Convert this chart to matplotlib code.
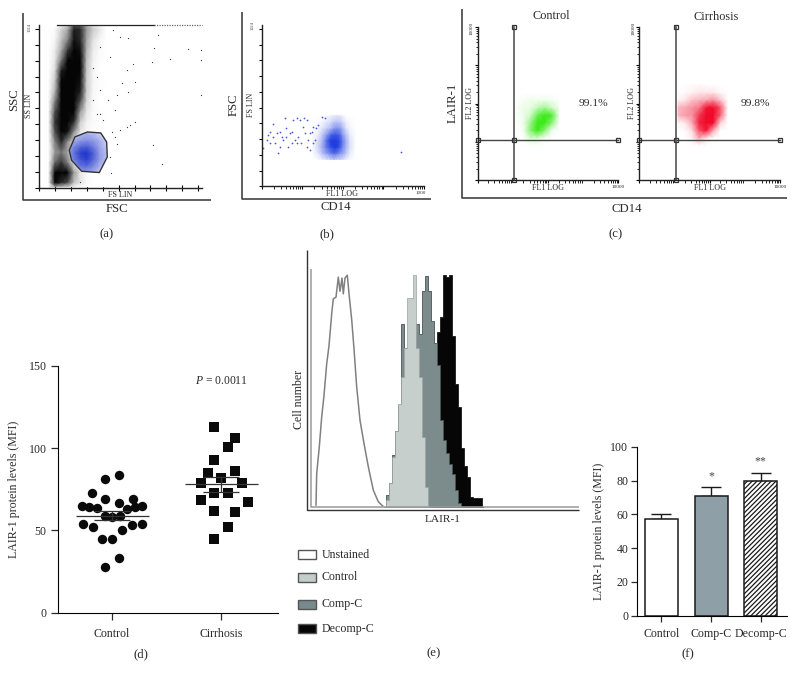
import numpy as np
import matplotlib
matplotlib.use("Agg")
import matplotlib.pyplot as plt
from matplotlib.colors import LinearSegmentedColormap
from matplotlib.patches import Polygon, Rectangle

plt.rcParams['font.family'] = ['Liberation Serif', 'DejaVu Serif']
plt.rcParams['mathtext.fontset'] = 'custom'
plt.rcParams['mathtext.rm'] = 'Liberation Serif'
plt.rcParams['mathtext.it'] = 'Liberation Serif:italic'
plt.rcParams['hatch.linewidth'] = 0.9

W, H = 796, 680
TXT = '#2b2b2b'

# (a) side scatter vs forward scatter, densities read by eye on a coarse grid
a_xs = [60, 100, 140, 180, 220, 260, 300, 340, 380, 420]
a_ys = [1016, 992, 928, 864, 800, 736, 672, 608, 544, 480, 416, 352, 288, 224, 160, 96, 32, 8]
a_density = [
    [0, 0, .10, .25, .75, .70, .35, .15, .05, 0],
    [0, .02, .18, .35, .90, .85, .40, .20, .10, 0],
    [0, .04, .25, .50, .95, .85, .35, .12, .03, 0],
    [0, .08, .35, .80, 1, .95, .30, .08, .02, 0],
    [0, .10, .55, 1, 1, 1, .25, .05, .01, 0],
    [0, .15, .90, 1, 1, 1, .22, .04, 0, 0],
    [0, .22, 1, 1, 1, .95, .20, .04, .01, 0],
    [0, .30, 1, 1, 1, .90, .20, .03, .01, 0],
    [0, .50, 1, 1, 1, .70, .15, .03, 0, 0],
    [0, .70, 1, 1, 1, .40, .10, .02, .01, 0],
    [0, .80, 1, 1, .85, .20, .05, .02, .01, 0],
    [0, .70, 1, .95, .45, .10, .03, 0, 0, 0],
    [0, .50, .85, .45, .15, .05, .02, 0, 0, 0],
    [0, .40, .55, .35, .10, .05, .02, 0, 0, 0],
    [0, .60, .80, .50, .10, .03, 0, 0, 0, 0],
    [0, 1, 1, 1, .40, .10, .02, 0, 0, 0],
    [0, 1, .85, .70, .25, .10, .02, 0, 0, 0],
    [0, .35, .25, .20, .05, .02, 0, 0, 0, 0],
]
a_gate_x = [190, 226, 304, 388, 425, 429, 379, 268, 205]
a_gate_y = [237, 321, 352, 346, 289, 195, 97, 105, 174]
a_blue_xs = [180, 220, 260, 300, 340, 380, 430]
a_blue_ys = [90, 140, 180, 220, 260, 300, 350]
a_blue = [
    [.25, .40, .45, .45, .40, .25, .10],
    [.35, .55, .70, .75, .60, .40, .20],
    [.45, .65, .85, .95, .75, .50, .30],
    [.45, .70, .95, 1, .80, .50, .30],
    [.40, .60, .75, .80, .65, .45, .25],
    [.30, .40, .50, .55, .50, .40, .20],
    [.15, .25, .30, .35, .30, .20, .10],
]
a_stray_x = [745, 722, 938, 1020, 823, 708, 1020, 593, 551, 603, 519, 561, 488, 1020, 341, 477,
             383, 603, 551, 509, 456, 718, 771, 452, 572, 488, 477, 446, 258, 362, 404, 436,
             383, 362, 446, 509, 561, 383, 467, 341]
a_stray_y = [961, 881, 873, 866, 810, 793, 803, 782, 741, 667, 657, 604, 583, 587, 552, 489,
             468, 415, 384, 363, 352, 269, 153, 94, 394, 279, 321, 195, 38, 468, 426, 552,
             615, 699, 824, 950, 940, 887, 992, 751]

# (b) FSC vs CD14
b_xs = [1.8, 2.5, 3.2, 4, 5, 6, 7, 8.5, 10, 12, 15, 20]
b_ys = [170, 210, 250, 290, 330, 370, 410, 450]
b_density = [
    [0, .02, .08, .14, .20, .25, .20, .20, .15, .08, .02, 0],
    [.02, .15, .35, .50, .65, .75, .70, .55, .45, .30, .10, 0],
    [.03, .22, .45, .70, .90, 1, 1, .85, .60, .38, .15, .02],
    [.03, .18, .40, .75, 1, 1, 1, .90, .65, .40, .15, .02],
    [.02, .10, .30, .50, .75, .85, .85, .75, .50, .30, .10, 0],
    [0, .05, .15, .25, .35, .50, .55, .50, .35, .15, .05, 0],
    [0, .02, .06, .12, .18, .28, .30, .28, .18, .08, .02, 0],
    [0, 0, 0, .03, .07, .08, .12, .12, .05, 0, 0, 0],
]
b_log_x = [-.96, -.88, -.84, -.80, -.73, -.71, -.67, -.63, -.59, -.55, -.51, -.47, -.43, -.39, -.34,
           -.30, -.26, -.22, -.18, -.14, -.10, -.06, -.02, .02, .04, .07, .11, .15, .19, .23, .27,
           .27, .31, .35, .39, .19, .48, .56, .11, -.14, -.80, -.55, -.39, -.26, 2.43]
b_y = [241, 294, 326, 347, 396, 315, 273, 336, 209, 347, 315, 294, 432, 368, 252, 336, 347, 421,
       294, 432, 315, 421, 273, 379, 432, 336, 421, 294, 336, 347, 379, 273, 294, 368, 390, 230,
       441, 432, 252, 273, 273, 252, 315, 273, 220]

# (c) LAIR-1 vs CD14, log10 positions of the density grids
c_green_lx = [1.1, 1.3, 1.5, 1.7, 1.9, 2.1, 2.3]
c_green_ly = [.9, 1.1, 1.3, 1.5, 1.7, 1.9, 2.1, 2.3]
c_green = [
    [0, 0, 0, 0, 0, 0, 0],
    [0, .02, .20, .20, .05, 0, 0],
    [0, .05, .60, 1, .60, .08, 0],
    [0, .08, .50, 1, 1, .60, .04],
    [.03, .08, .25, .75, 1, .90, .12],
    [.03, .10, .12, .30, .45, .25, .08],
    [0, .03, .08, .06, .08, .06, 0],
    [0, 0, 0, 0, 0, 0, 0],
]
c_red_lx = [1.1, 1.3, 1.5, 1.7, 1.9, 2.1, 2.3, 2.5]
c_red_ly = [.9, 1.1, 1.3, 1.5, 1.7, 1.9, 2.1, 2.3, 2.5]
c_red = [
    [0, 0, 0, 0, 0, 0, 0, 0],
    [0, 0, .05, .35, .10, 0, 0, 0],
    [0, .02, .15, .70, .95, .35, 0, 0],
    [.03, .10, .35, .90, 1, 1, .20, 0],
    [.30, .40, .45, .80, 1, 1, .65, .02],
    [.30, .35, .45, .55, .95, 1, .70, .05],
    [.05, .10, .25, .30, .35, .45, .25, .02],
    [0, .03, .05, .10, .10, .10, .03, 0],
    [0, 0, .02, .02, .01, 0, 0, 0],
]
c_gate = 10.9
c_labels = ['99.1%', '99.8%']

# (d) scatter
d_categories = ['Control', 'Cirrhosis']
d_control_x = [1.064, .939, .814, .939, 1.19, 1.064, .723, .793, .863, 1.137, 1.207, 1.277,
               .939, 1.0, 1.07, .732, .823, 1.18, 1.274, 1.09, .912, 1.0, 1.064, .939]
d_control_y = [84, 81, 73, 69, 69, 66.5, 65, 64.5, 63.5, 63, 64.5, 65,
               59, 58, 58.5, 54, 52, 53.5, 54, 50, 45, 45, 33, 28]
d_cirr_x = [1.936, 2.125, 2.061, 1.936, 2.125, 1.875, 2.0, 1.814, 2.186,
            1.936, 2.061, 1.814, 2.247, 1.936, 2.125, 2.061, 1.936]
d_cirr_y = [113, 106, 100.5, 93, 86, 85, 82, 79, 79, 72.5, 73, 68.5, 67.5, 62, 61, 52, 44.6]
d_means = [59, 78]
d_sem = [2.9, 4.6]

# (e) histograms, channel and cell number
e_unstained_x = [5, 5.7, 8.3, 10.7, 13, 15.7, 18, 20.7, 22.3, 25, 27.3, 29, 31, 32.3, 34, 36.3,
                 38.3, 40.7, 43, 45.7, 49, 53, 57.3, 62.3, 67.3, 71.7]
e_unstained_y = [.7, 14, 25.3, 37.9, 47, 60.4, 68, 81.5, 87.8, 88.5, 97, 91, 96.6, 89.9, 96.6, 97.8,
                 88.8, 79, 66.7, 50.6, 36.5, 26.7, 16.9, 7, 2.1, .3]
e_control_x = [73, 76, 79, 82, 85, 88, 91, 94, 97, 100, 103, 106, 109, 112, 115, 118]
e_control_y = [0, 3, 10, 21, 32, 43.5, 55, 67, 88, 88, 98, 67, 55, 29.5, 8.4, 0]
e_comp_x = [73, 76, 79, 82, 85, 88, 91, 94, 97, 100, 103, 106, 109, 112, 115, 118, 121, 124, 127, 130,
            133, 136, 139, 142, 145, 148, 151]
e_comp_y = [0, 5, 10, 22, 32, 43, 77, 67, 59, 56, 56, 77, 73, 91, 97.6, 91, 78.6, 69, 60, 36.5,
            28, 22.5, 18, 14, 7, 1.4, 0]
e_decomp_x = [124, 127, 130, 133, 136, 139, 142, 145, 148, 151, 154, 157, 160, 163, 166, 169, 172]
e_decomp_y = [0, 74, 80, 98, 97, 98, 72, 52, 42, 25, 17, 12.6, 4, 3.5, 3.5, 3.5, 0]
e_legend = ['Unstained', 'Control', 'Comp-C', 'Decomp-C']

# (f) bars
f_categories = ['Control', 'Comp-C', 'Decomp-C']
f_values = [57, 71, 79.6]
f_errors = [3, 5.2, 5.1]
f_stars = ['', '*', '**']


def panel_ax(left, top, right, bottom):
    return fig.add_axes([left / W, 1 - bottom / H, (right - left) / W, (bottom - top) / H])


def density(ax, xs, ys, grid, color, zorder=2):
    # opaque white-to-colour map, alpha shows the triangle seams of the gouraud mesh
    cmap = LinearSegmentedColormap.from_list('fade', ['white', color])
    return ax.pcolormesh(xs, ys, grid, shading='gouraud', cmap=cmap, vmin=0, vmax=1, zorder=zorder)


def flow_axes(ax):
    ax.spines[['top', 'right']].set_visible(False)
    ax.patch.set_alpha(0)
    for s in ax.spines.values():
        s.set_linewidth(1)
        s.set_color('#222222')
        s.set_zorder(6)
    ax.tick_params(which='both', direction='out', length=2.5, width=.8, labelleft=False, labelbottom=False)
    ax.tick_params(which='minor', length=1.8, width=.6)


fig = plt.figure(figsize=(W / 100, H / 100), dpi=100)

# panel a
ax = panel_ax(39, 25, 202, 188)
ax.set_xlim(0, 1024)
ax.set_ylim(0, 1024)
flow_axes(ax)
ax.set_xticks(range(0, 1024, 100))
ax.set_yticks(range(0, 1024, 100))
ax.tick_params(axis='x', direction='inout', length=4)
ax.tick_params(axis='y', direction='out', length=3)
density(ax, a_xs, a_ys, a_density, '#050505')
ax.scatter(a_stray_x, a_stray_y, s=.8, c='#333333', linewidths=0, zorder=3)
ax.plot([110, 720], [1024, 1024], color='#222222', lw=.9, clip_on=False, zorder=3)
ax.plot([720, 1024], [1024, 1024], color='#666666', lw=.9, ls=(0, (1, 1)), clip_on=False, zorder=3)
gate = Polygon(np.column_stack([a_gate_x, a_gate_y]), closed=True, fc='white', ec='none', zorder=4)
ax.add_patch(gate)
blue = density(ax, a_blue_xs, a_blue_ys, a_blue, '#2136cc', zorder=5)
blue.set_clip_path(gate)
ax.add_patch(Polygon(np.column_stack([a_gate_x, a_gate_y]), closed=True, fc='none', ec='#333333', lw=1, zorder=6))

# panel b
ax = panel_ax(261.7, 25, 424, 186.3)
ax.set_xscale('log')
ax.set_xlim(.1, 1000)
ax.set_ylim(0, 1024)
flow_axes(ax)
ax.set_yticks(range(0, 1024, 100))
ax.xaxis.set_minor_locator(matplotlib.ticker.LogLocator(base=10, subs=range(2, 10), numticks=10))
ax.xaxis.set_minor_formatter(matplotlib.ticker.NullFormatter())
density(ax, b_xs, b_ys, b_density, '#1f3de0')
ax.scatter(10 ** np.array(b_log_x), b_y, s=1.6, c='#4a55d8', linewidths=0, zorder=3)

# panel c
for left, right, lx, ly, grid, color in [
        (477.7, 618.3, c_green_lx, c_green_ly, c_green, '#3bea18'),
        (639.3, 780, c_red_lx, c_red_ly, c_red, '#f00a2a')]:
    ax = panel_ax(left, 27.3, right, 180)
    ax.set_xscale('log')
    ax.set_yscale('log')
    ax.set_xlim(1, 10000)
    ax.set_ylim(1, 10000)
    flow_axes(ax)
    for axis in (ax.xaxis, ax.yaxis):
        axis.set_minor_locator(matplotlib.ticker.LogLocator(base=10, subs=range(2, 10), numticks=10))
        axis.set_minor_formatter(matplotlib.ticker.NullFormatter())
    density(ax, 10 ** np.array(lx), 10 ** np.array(ly), grid, color)
    ax.plot([1, 10000], [c_gate, c_gate], color='#444444', lw=1, zorder=4, clip_on=False)
    ax.plot([c_gate, c_gate], [1, 10000], color='#555555', lw=1.2, zorder=4, clip_on=False)
    ax.plot([1, c_gate, 10000, c_gate, c_gate], [c_gate, c_gate, c_gate, 10000, 1], ls='none', marker='s',
            ms=3.2, mfc='none', mec='#333333', mew=.9, clip_on=False, zorder=5)

# panel d
ax = panel_ax(57.7, 366, 277.7, 612.7)
ax.set_xlim(.503, 2.515)
ax.set_ylim(0, 150)
ax.spines[['top', 'right']].set_visible(False)
ax.patch.set_alpha(0)
ax.set_xticks([1, 2], d_categories)
ax.set_yticks([0, 50, 100, 150])
ax.tick_params(length=5, width=.9, labelsize=8.6, colors=TXT, pad=3)
ax.tick_params(axis='x', pad=6)
ax.scatter(d_control_x, d_control_y, s=46, c='#0a0a0a', marker='o', linewidths=0, zorder=2)
ax.scatter(d_cirr_x, d_cirr_y, s=46, c='#0a0a0a', marker='s', linewidths=0, zorder=2)
ax.errorbar([1, 2], d_means, yerr=d_sem, fmt='none', ecolor='#333333', elinewidth=.9, capsize=13, capthick=.9, zorder=3)
ax.hlines(d_means, [.668, 1.668], [1.338, 2.338], color='#333333', lw=.9, zorder=3)
ax.set_ylabel('LAIR-1 protein levels (MFI)', fontsize=8.6, color=TXT, labelpad=6)

# panel e
ax = panel_ax(311, 270, 579, 506.7)
ax.set_xlim(0, 268)
ax.set_ylim(0, 100)
ax.axis('off')
ax.fill_between(e_decomp_x, e_decomp_y, step='mid', color='#060606', lw=.5, zorder=2)
ax.fill_between(e_comp_x, e_comp_y, step='mid', fc='#7c8b8c', ec='#4a5556', lw=.6, zorder=3)
ax.fill_between(e_control_x, e_control_y, step='mid', fc='#c6cfcc', ec='#9aa3a0', lw=.5, zorder=4)
ax.plot(e_unstained_x, e_unstained_y, color='#808080', lw=1.1, zorder=5)

# panel f
ax = panel_ax(636.7, 446.7, 786.7, 615.7)
ax.set_xlim(.505, 3.52)
ax.set_ylim(0, 100)
ax.spines[['top', 'right']].set_visible(False)
ax.patch.set_alpha(0)
f_pos = [1, 2, 3]
bars = ax.bar(f_pos, f_values, width=.665, color=['white', '#8f9fa8', 'white'], edgecolor='#1a1a1a', linewidth=1.1, zorder=2)
bars[2].set_hatch('///////')
ax.errorbar(f_pos, f_values, yerr=[[0, 0, 0], f_errors], fmt='none', ecolor='#1a1a1a', elinewidth=1, capsize=7.2, capthick=1, zorder=1)
for p, v, e, s in zip(f_pos, f_values, f_errors, f_stars):
    ax.text(p, v + e + 6.5, s, ha='center', va='center', fontsize=8.6, color='#444444')
ax.set_xticks(f_pos, f_categories)
ax.set_yticks([0, 20, 40, 60, 80, 100])
ax.tick_params(length=4, width=.9, labelsize=8.6, colors=TXT, pad=2)
ax.tick_params(axis='x', pad=5)
ax.set_ylabel('LAIR-1 protein levels (MFI)', fontsize=8.6, color=TXT, labelpad=4)

# everything placed in picture coordinates: frames, legend, captions
over = fig.add_axes([0, 0, 1, 1], zorder=10)
over.set_xlim(0, W)
over.set_ylim(H, 0)
over.axis('off')

frames = [([22.5, 22.5, 211], [13, 200, 200], '#333333', 1.1),
          ([242.3, 242.3, 431], [12, 198.5, 198.5], '#333333', 1.1),
          ([462.3, 462.3, 787], [8.7, 197.7, 197.7], '#333333', 1.1),
          ([307.3, 307.3, 579], [250, 509.5, 509.5], '#333333', 1),
          ([311, 311, 579], [269, 506.7, 506.7], '#999999', 1.1)]
for xs, ys, c, lw in frames:
    over.plot(xs, ys, color=c, lw=lw, solid_capstyle='butt')

legend_boxes = [(550, '#ffffff'), (572.5, '#c3cdcb'), (599.5, '#778a8c'), (624, '#060606')]
legend_text_y = [554.5, 577, 604.5, 629]
for (y, c), ty, label in zip(legend_boxes, legend_text_y, e_legend):
    over.add_patch(Rectangle((298, y), 17.7, 9.3, fc=c, ec='#555555', lw=1))
    over.text(321.3, ty, label, fontsize=8.6, color=TXT, ha='left', va='center')

texts = [
    (14, 100, 'SSC', 9.2, 90), (117, 209, 'FSC', 9.2, 0), (107, 234.7, '(a)', 9.2, 0),
    (29.3, 106, 'SS LIN', 5.8, 90), (120, 195, 'FS LIN', 5.8, 0), (30, 28, '1024', 3.2, 90),
    (234, 105, 'FSC', 9.2, 90), (251, 105, 'FS LIN', 5.8, 90), (341.7, 194, 'FL1 LOG', 5.8, 0),
    (421, 192.7, '1000', 3.6, 0), (252.7, 26, '1024', 3.2, 90), (336, 207, 'CD14', 9.2, 0),
    (327, 234, '(b)', 9.2, 0),
    (551.7, 16, 'Control', 8.8, 0), (716, 16.5, 'Cirrhosis', 8.8, 0),
    (593, 103.7, '99.1%', 8.2, 0), (755, 103.7, '99.8%', 8.2, 0),
    (453, 103, 'LAIR-1', 9.2, 90), (627, 209, 'CD14', 9.2, 0), (616, 234.7, '(c)', 9.2, 0),
    (548, 187.7, 'FL1 LOG', 5.8, 0), (710, 187.7, 'FL1 LOG', 5.8, 0),
    (470, 103, 'FL2 LOG', 5.8, 90), (631.7, 103, 'FL2 LOG', 5.8, 90),
    (618, 186.5, '10000', 3.8, 0), (780, 186.5, '10000', 3.8, 0),
    (472, 28, '10000', 3.8, 90), (634, 28, '10000', 3.8, 90),
    (221, 381.5, r'$\mathit{P}$ = 0.0011', 8.4, 0), (140.7, 654, '(d)', 9.2, 0),
    (299, 399, 'Cell number', 8.6, 90), (442.7, 519, 'LAIR-1', 8.2, 0), (433.7, 653.7, '(e)', 9.2, 0),
    (688.3, 654, '(f)', 9.2, 0),
]
for x, y, s, size, rot in texts:
    over.text(x, y, s, fontsize=size, rotation=rot, color=TXT, ha='center', va='center')

fig.savefig('out.png', dpi=100)
